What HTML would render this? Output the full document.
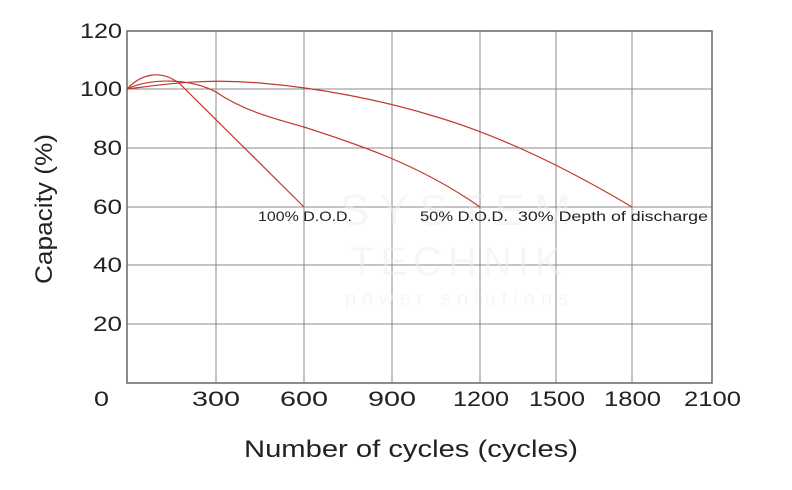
<!DOCTYPE html>
<html><head><style>
body{margin:0;background:#fff;width:792px;height:485px;overflow:hidden}
text{font-family:"Liberation Sans",sans-serif;fill:#222}
</style></head><body>
<svg width="792" height="485" xmlns="http://www.w3.org/2000/svg">
<g stroke="#888" stroke-width="1" fill="none">
<line x1="216" y1="31" x2="216" y2="383"/>
<line x1="304" y1="31" x2="304" y2="383"/>
<line x1="392" y1="31" x2="392" y2="383"/>
<line x1="480" y1="31" x2="480" y2="383"/>
<line x1="556" y1="31" x2="556" y2="383"/>
<line x1="632" y1="31" x2="632" y2="383"/>
<line x1="127" y1="89" x2="712" y2="89"/>
<line x1="127" y1="148" x2="712" y2="148"/>
<line x1="127" y1="207" x2="712" y2="207"/>
<line x1="127" y1="265" x2="712" y2="265"/>
<line x1="127" y1="324" x2="712" y2="324"/>
</g>
<rect x="127" y="31" width="585" height="352" fill="none" stroke="#666" stroke-width="1.5"/>
<g opacity="0.5">
<text x="340" y="225" font-size="44" style="fill:#eee;letter-spacing:10px">SYSTEM</text>
<text x="350" y="275" font-size="40" style="fill:#eee;letter-spacing:6px">TECHNIK</text>
<text x="345" y="305" font-size="20" style="fill:#eee;letter-spacing:6px">power solutions</text>
</g>
<g stroke="#c0392b" stroke-width="1.2" fill="none">
<path d="M127,89 C140,75 160,68 180,84 L304,207"/>
<path d="M127,89 C150,78 190,78 216,92 C245,112 280,120 304,127 C360,145 420,165 480,207"/>
<path d="M127,89 C160,85 200,78 260,83 C320,88 380,100 430,115 C500,135 570,170 632,207"/>
</g>
<g font-size="14">
<text x="258" y="221" textLength="94" lengthAdjust="spacingAndGlyphs">100% D.O.D.</text>
<text x="420" y="221" textLength="88" lengthAdjust="spacingAndGlyphs">50% D.O.D.</text>
<text x="518" y="221" textLength="190" lengthAdjust="spacingAndGlyphs">30% Depth of discharge</text>
</g>
<g font-size="21">
<text x="80" y="38" textLength="42" lengthAdjust="spacingAndGlyphs">120</text>
<text x="80" y="96" textLength="42" lengthAdjust="spacingAndGlyphs">100</text>
<text x="93" y="155" textLength="29" lengthAdjust="spacingAndGlyphs">80</text>
<text x="93" y="214" textLength="29" lengthAdjust="spacingAndGlyphs">60</text>
<text x="93" y="272" textLength="29" lengthAdjust="spacingAndGlyphs">40</text>
<text x="93" y="331" textLength="29" lengthAdjust="spacingAndGlyphs">20</text>
</g>
<g font-size="21">
<text x="94" y="406" textLength="15" lengthAdjust="spacingAndGlyphs">0</text>
<text x="192" y="406" textLength="48" lengthAdjust="spacingAndGlyphs">300</text>
<text x="280" y="406" textLength="48" lengthAdjust="spacingAndGlyphs">600</text>
<text x="368" y="406" textLength="48" lengthAdjust="spacingAndGlyphs">900</text>
<text x="453" y="406" textLength="56" lengthAdjust="spacingAndGlyphs">1200</text>
<text x="529" y="406" textLength="56" lengthAdjust="spacingAndGlyphs">1500</text>
<text x="604" y="406" textLength="57" lengthAdjust="spacingAndGlyphs">1800</text>
<text x="684" y="406" textLength="57" lengthAdjust="spacingAndGlyphs">2100</text>
</g>
<text x="244" y="457" font-size="24" textLength="334" lengthAdjust="spacingAndGlyphs">Number of cycles (cycles)</text>
<text transform="translate(52,284) rotate(-90)" font-size="24" textLength="150" lengthAdjust="spacingAndGlyphs">Capacity (%)</text>
</svg>
</body></html>
